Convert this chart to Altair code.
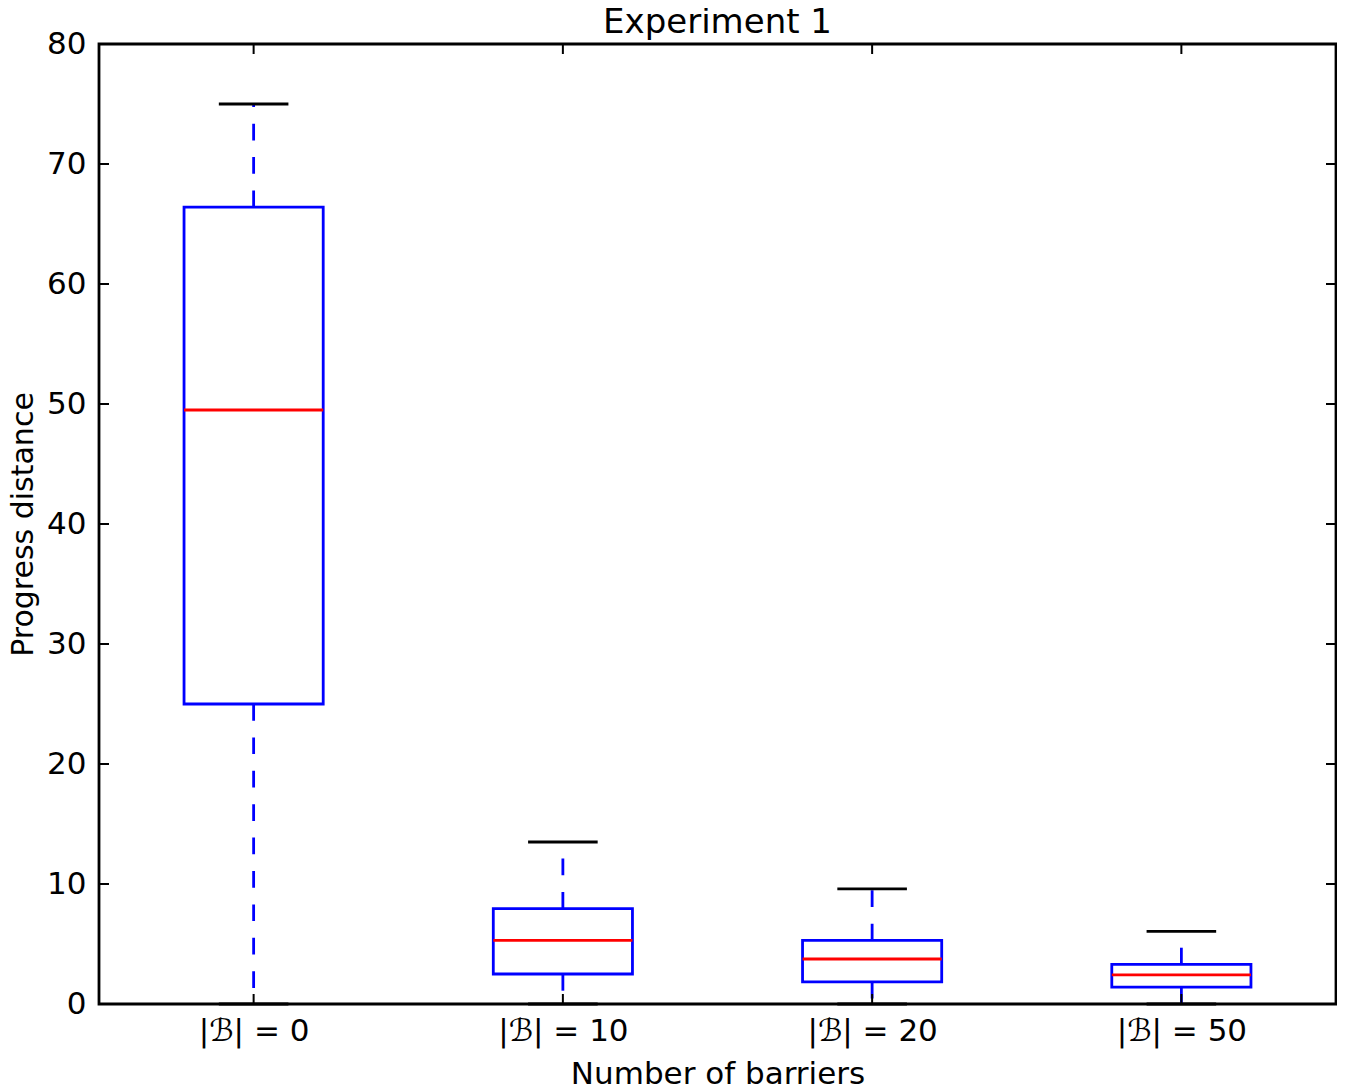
import altair as alt
import pandas as pd

# ---- data ----
title_text = "Experiment 1"
positions = [1, 2, 3, 4]
labels = ["|ℬ| = 0", "|ℬ| = 10", "|ℬ| = 20", "|ℬ| = 50"]
whisker_low = [0.0, 0.0, 0.0, 0.0]
q1 = [25.0, 2.5, 1.85, 1.4]
median = [49.5, 5.3, 3.75, 2.42]
q3 = [66.4, 7.95, 5.3, 3.3]
whisker_high = [75.0, 13.5, 9.6, 6.05]
y_ticks = [0, 10, 20, 30, 40, 50, 60, 70, 80]

df = pd.DataFrame({
    "pos": positions, "label": labels, "lo": whisker_low, "q1": q1,
    "med": median, "q3": q3, "hi": whisker_high,
})
ticks_df = pd.DataFrame({"t": y_ticks})
xt_df = pd.DataFrame({"pos": positions})
title_df = pd.DataFrame({"title": [title_text]})

W, H = 1237, 960
FONT = "DejaVu Sans"
BOX_HALF = 0.225
CAP_HALF = 0.1125
LW = 2.8
BLUE = "#0000ff"

label_expr = "[" + ",".join("'" + l + "'" for l in labels) + "][datum.value - 1]"

xs = alt.Scale(domain=[0.5, 4.5], nice=False, zero=False)
ys = alt.Scale(domain=[0, 80], nice=False, zero=False)

x_axis = alt.Axis(
    values=positions, labelExpr=label_expr, title="Number of barriers",
    grid=False, ticks=False, tickSize=0, domain=False,
    labelFont=FONT, labelFontSize=31, labelColor="black",
    labelBaseline="alphabetic", labelPadding=36,
    titleFont=FONT, titleFontSize=31, titleFontWeight="normal", titleColor="black",
    titleX=W / 2, titleY=79, titleAlign="center", titleBaseline="alphabetic",
)
y_axis = alt.Axis(
    values=y_ticks, title="Progress distance",
    grid=False, ticks=False, tickSize=0, domain=False,
    labelFont=FONT, labelFontSize=31, labelColor="black",
    labelPadding=13, labelBaseline="middle",
    titleFont=FONT, titleFontSize=30, titleFontWeight="normal", titleColor="black",
    titleX=-67, titleY=H / 2, titleAngle=270, titleAlign="center",
    titleBaseline="alphabetic",
)

base = alt.Chart(df).transform_calculate(
    bl="datum.pos - %f" % BOX_HALF,
    br="datum.pos + %f" % BOX_HALF,
    cl="datum.pos - %f" % CAP_HALF,
    cr="datum.pos + %f" % CAP_HALF,
)

lower_whisker = base.mark_rule(color=BLUE, strokeWidth=LW, strokeDash=[16.7, 16.7]).encode(
    x=alt.X("pos:Q", scale=xs, axis=x_axis),
    y=alt.Y("q1:Q", scale=ys, axis=y_axis),
    y2="lo:Q",
)
upper_whisker = base.mark_rule(color=BLUE, strokeWidth=LW, strokeDash=[16.7, 16.7]).encode(
    x=alt.X("pos:Q", scale=xs), y=alt.Y("q3:Q", scale=ys), y2="hi:Q",
)
box = base.mark_rect(fill="white", fillOpacity=0, stroke=BLUE, strokeWidth=LW).encode(
    x=alt.X("bl:Q", scale=xs), x2="br:Q", y=alt.Y("q1:Q", scale=ys), y2="q3:Q",
)
med = base.mark_rule(color="#ff0000", strokeWidth=LW).encode(
    x=alt.X("bl:Q", scale=xs), x2="br:Q", y=alt.Y("med:Q", scale=ys),
)
cap_hi = base.mark_rule(color="black", strokeWidth=LW).encode(
    x=alt.X("cl:Q", scale=xs), x2="cr:Q", y=alt.Y("hi:Q", scale=ys),
)
cap_lo = base.mark_rule(color="black", strokeWidth=LW).encode(
    x=alt.X("cl:Q", scale=xs), x2="cr:Q", y=alt.Y("lo:Q", scale=ys),
)

# inward tick marks on all four sides (matplotlib classic style)
TL = 10
ytick_l = alt.Chart(ticks_df).mark_rule(color="black", strokeWidth=2).encode(
    y=alt.Y("t:Q", scale=ys), x=alt.value(0), x2=alt.value(TL))
ytick_r = alt.Chart(ticks_df).mark_rule(color="black", strokeWidth=2).encode(
    y=alt.Y("t:Q", scale=ys), x=alt.value(W - TL), x2=alt.value(W))
xtick_b = alt.Chart(xt_df).mark_rule(color="black", strokeWidth=2).encode(
    x=alt.X("pos:Q", scale=xs), y=alt.value(H), y2=alt.value(H - TL))
xtick_t = alt.Chart(xt_df).mark_rule(color="black", strokeWidth=2).encode(
    x=alt.X("pos:Q", scale=xs), y=alt.value(0), y2=alt.value(TL))

# chart title drawn as a text mark so it sits exactly above the frame
title_mark = alt.Chart(title_df).mark_text(
    font=FONT, fontSize=34, color="black", align="center", baseline="alphabetic",
).encode(text="title:N", x=alt.value(W / 2), y=alt.value(-11))

chart = alt.layer(
    lower_whisker, upper_whisker, box, med, cap_hi, cap_lo,
    ytick_l, ytick_r, xtick_b, xtick_t, title_mark,
).properties(
    width=W, height=H,
    autosize=alt.AutoSizeParams(type="none"),
    padding={"left": 91, "top": 36, "right": 1, "bottom": 80},
    background="white",
).configure_view(stroke="black", strokeWidth=LW)

chart.save("out.html", embed_options={"renderer": "svg", "actions": False})
